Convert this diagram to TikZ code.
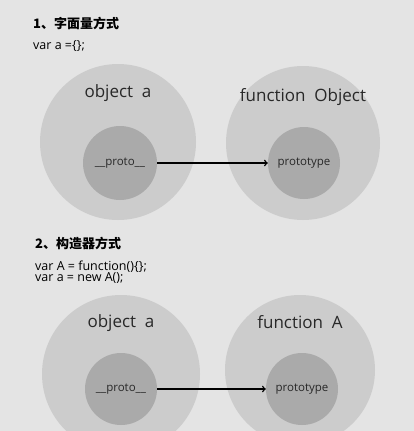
\documentclass[tikz,border=0pt]{standalone}
\usepackage{fontspec}
\setmainfont{Open Sans}
\newfontfamily\cjk{Noto Sans CJK SC}
\usetikzlibrary{positioning}

\definecolor{screen}{RGB}{228,228,228}
\definecolor{outergray}{RGB}{204,204,204}
\definecolor{innergray}{RGB}{170,170,170}
\definecolor{ink}{RGB}{40,40,40}

\begin{document}
\begin{tikzpicture}[x=1pt, y=-1pt,
    outerdisc/.style={circle, fill=outergray, inner sep=0pt},
    innerdisc/.style={circle, fill=innergray, inner sep=0pt, minimum size=72pt,
        text=ink, font=\fontsize{11.5}{12}\selectfont},
    objname/.style={text=ink, font=\fontsize{17}{17}\selectfont},
    headline/.style={anchor=west, inner sep=0pt, text=black,
        font=\cjk\bfseries\fontsize{13}{15}\selectfont},
    codeline/.style={anchor=west, inner sep=0pt, align=left, text=black,
        font=\fontsize{12.5}{11}\selectfont}]

    \fill[screen] (0,0) rectangle (414,431);
    \useasboundingbox (0,0) rectangle (414,431);

    % 1. literal
    \node[headline] (head1) at (33,23) {1、字面量方式};
    \node[codeline] (code1) at (33,46) {var a =\{\};};

    \node[outerdisc, minimum size=156pt] (objA) at (118,142) {};
    \node[outerdisc, minimum size=154pt] (funObject) at (303,143) {};
    \node[innerdisc, minimum size=74pt] (protoA) at (120,163) {\_\_proto\_\_};
    \node[innerdisc] (protoObject) at (304,163) {prototype};

    \node[objname] at ([yshift=49pt]objA) {object\ \ a};
    \node[objname] at ([yshift=46pt]funObject) {function\ \ Object};

    \draw[->,>=to,line width=1.4pt] (protoA) -- (protoObject);

    % 2. constructor
    \node[headline] (head2) at (35,243) {2、构造器方式};
    \node[codeline] (code2) at (35,272) {var A = function()\{\};\\var a = new A();};

    \node[outerdisc, minimum size=158pt] (objB) at (121,374) {};
    \node[outerdisc, minimum size=150pt] (funA) at (300,370) {};
    \node[innerdisc] (protoB) at (121,389) {\_\_proto\_\_};
    \node[innerdisc] (protoFunA) at (302,389) {prototype};

    \node[objname] at ([yshift=51pt]objB) {object\ \ a};
    \node[objname] at ([yshift=48pt]funA) {function\ \ A};

    \draw[->,>=to,line width=1.4pt] (protoB) -- (protoFunA);

\end{tikzpicture}
\end{document}
